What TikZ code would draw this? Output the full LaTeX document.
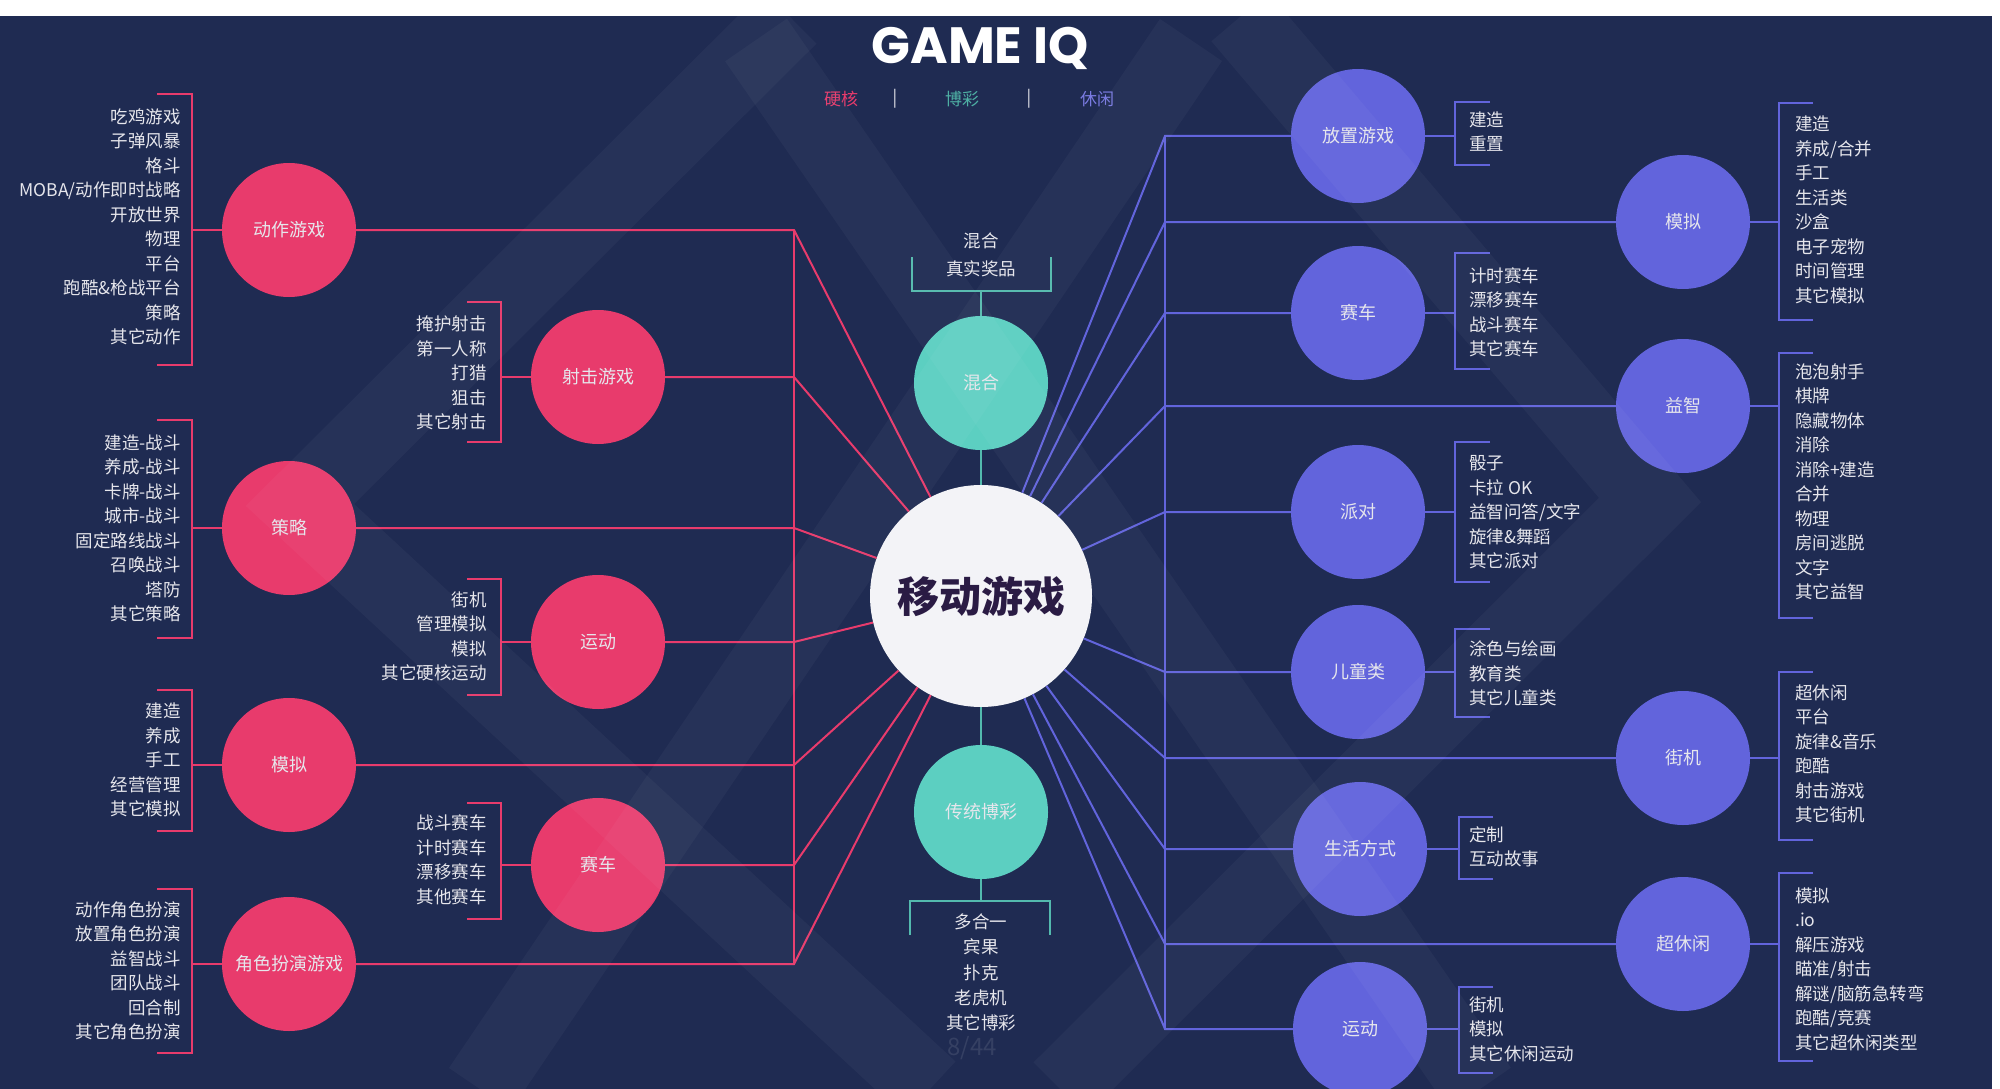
\documentclass[tikz,border=0pt]{standalone}
\usepackage{fontspec}
\setmainfont{Noto Sans CJK SC}
\newfontfamily\titlefont{Poppins}
\usetikzlibrary{positioning}
\definecolor{navy}{HTML}{1F2B52}
\definecolor{rose}{HTML}{E83B6C}
\definecolor{mint}{HTML}{5CCFC1}
\definecolor{iris}{HTML}{6264DC}
\definecolor{ink}{HTML}{2A1B44}
\definecolor{paper}{HTML}{F3F3F7}
\definecolor{txt}{HTML}{E6E6EC}

\begin{document}
\begin{tikzpicture}[x=1pt, y=-1pt,
      hard/.style={circle, fill=rose, minimum size=134pt, inner sep=0pt,
                   text=txt, font=\fontsize{18}{20}\selectfont},
      gamb/.style={hard, fill=mint},
      casu/.style={hard, fill=iris},
      lstL/.style={anchor=east, align=right, inner sep=0pt, text=txt,
                   font=\fontsize{17.5}{24.5}\selectfont},
      lstR/.style={lstL, anchor=west, align=left},
      hline/.style={rose, line width=2pt},
      gline/.style={mint!90!black, line width=2pt},
      cline/.style={iris, line width=2pt},
      brk/.style={line width=2.5pt},
      wm/.style={white, opacity=0.035, line width=75pt, line join=miter}
    ]
    \useasboundingbox (0,0) rectangle (2000,1089);
    \fill[white] (0,0) rectangle (2000,1089);
    \fill[navy] (0,16) rectangle (1992,1089);

    % title and legend
    \node[text=white, font=\titlefont\bfseries\fontsize{51}{55}\selectfont] (title) at (980,48) {GAME IQ};
    \node[text=rose, font=\fontsize{17}{20}\selectfont] (lgHard) at (841,99) {硬核};
    \node[text=txt, font=\fontsize{17}{20}\selectfont] (sepA) at (895,99) {|};
    \node[text=mint!85!black, font=\fontsize{17}{20}\selectfont] (lgGamb) at (962,99) {博彩};
    \node[text=txt, font=\fontsize{17}{20}\selectfont] (sepB) at (1029,99) {|};
    \node[text=iris!85!white, font=\fontsize{17}{20}\selectfont] (lgCasu) at (1097,99) {休闲};

    % hub
    \node[circle, fill=paper, minimum size=222pt, inner sep=0pt, text=ink,
          font=\bfseries\fontsize{42}{46}\selectfont] (hub) at (981,596) {移动游戏};

    % hardcore
    \node[hard] (act) at (289,230) {动作游戏};
    \node[hard] (shoot) at (598,377) {射击游戏};
    \node[hard] (strat) at (289,528) {策略};
    \node[hard] (sport) at (598,642) {运动};
    \node[hard] (sim) at (289,765) {模拟};
    \node[hard] (race) at (598,865) {赛车};
    \node[hard] (rpg) at (289,964) {角色扮演游戏};

    % gambling
    \node[gamb] (mix) at (981,383) {混合};
    \node[gamb] (trad) at (981,812) {传统博彩};

    % casual
    \node[casu] (idle) at (1358,136) {放置游戏};
    \node[casu] (race2) at (1358,313) {赛车};
    \node[casu] (party) at (1358,512) {派对};
    \node[casu] (kids) at (1358,672) {儿童类};
    \node[casu] (life) at (1360,849) {生活方式};
    \node[casu] (sport2) at (1360,1029) {运动};
    \node[casu] (sim2) at (1683,222) {模拟};
    \node[casu] (puzz) at (1683,406) {益智};
    \node[casu] (arc) at (1683,758) {街机};
    \node[casu] (hyper) at (1683,944) {超休闲};

    % connectors to hub
    \coordinate (hTop) at (794,230);
    \coordinate (hBot) at (794,964);
    \coordinate (cTop) at (1165,136);
    \coordinate (cBot) at (1165,1029);
    \draw[hline] (hTop) -- (hBot);
    \draw[hline] (act) -- (act -| hTop) -- (hub);
    \draw[hline] (shoot) -- (shoot -| hTop) -- (hub);
    \draw[hline] (strat) -- (strat -| hTop) -- (hub);
    \draw[hline] (sport) -- (sport -| hTop) -- (hub);
    \draw[hline] (sim) -- (sim -| hTop) -- (hub);
    \draw[hline] (race) -- (race -| hTop) -- (hub);
    \draw[hline] (rpg) -- (rpg -| hTop) -- (hub);

    \draw[cline] (cTop) -- (cBot);
    \draw[cline] (idle) -- (idle -| cTop) -- (hub);
    \draw[cline] (race2) -- (race2 -| cTop) -- (hub);
    \draw[cline] (party) -- (party -| cTop) -- (hub);
    \draw[cline] (kids) -- (kids -| cTop) -- (hub);
    \draw[cline] (life) -- (life -| cTop) -- (hub);
    \draw[cline] (sport2) -- (sport2 -| cTop) -- (hub);
    \draw[cline] (sim2) -- (sim2 -| cTop) -- (hub);
    \draw[cline] (puzz) -- (puzz -| cTop) -- (hub);
    \draw[cline] (arc) -- (arc -| cTop) -- (hub);
    \draw[cline] (hyper) -- (hyper -| cTop) -- (hub);

    \draw[gline] (hub) -- (mix);
    \draw[gline] (hub) -- (trad);

    % gambling lists
    \coordinate (mixB) at (981,291);
    \coordinate (tradB) at (981,901);
    \draw[gline] (mix) -- (mixB);
    \draw[gline, brk] (912,257) -- (912,291) -- (1051,291) -- (1051,257);
    \node[align=center, inner sep=0pt, text=txt, font=\fontsize{17.5}{28}\selectfont] (mixL) at (981,255) {混合\\真实奖品};
    \draw[gline] (trad) -- (tradB);
    \draw[gline, brk] (910,935) -- (910,901) -- (1050,901) -- (1050,935);
    \node[align=center, inner sep=0pt, text=txt, font=\fontsize{17.5}{25.3}\selectfont] (tradL) at (981,972.5) {多合一\\宾果\\扑克\\老虎机\\其它博彩};
    \node[text=white, opacity=0.1, font=\fontsize{24}{26}\selectfont] (pageNo) at (972,1048) {8/44};

    % hardcore lists
    \node[lstL] (actL) at (181,227) {吃鸡游戏\\子弹风暴\\格斗\\MOBA/动作即时战略\\开放世界\\物理\\平台\\跑酷\&枪战平台\\策略\\其它动作};
    \draw[hline, brk] (157,94) -- (192,94) -- (192,365) -- (157,365);
    \draw[hline] (192,230) -- (act);

    \node[lstL] (shootL) at (487,373) {掩护射击\\第一人称\\打猎\\狙击\\其它射击};
    \draw[hline, brk] (467,302) -- (501,302) -- (501,442) -- (467,442);
    \draw[hline] (501,377) -- (shoot);

    \node[lstL] (stratL) at (181,528.5) {建造-战斗\\养成-战斗\\卡牌-战斗\\城市-战斗\\固定路线战斗\\召唤战斗\\塔防\\其它策略};
    \draw[hline, brk] (157,420) -- (192,420) -- (192,638) -- (157,638);
    \draw[hline] (192,528) -- (strat);

    \node[lstL] (sportL) at (487,636.5) {街机\\管理模拟\\模拟\\其它硬核运动};
    \draw[hline, brk] (467,579) -- (501,579) -- (501,695) -- (467,695);
    \draw[hline] (501,642) -- (sport);

    \node[lstL] (simL) at (181,760) {建造\\养成\\手工\\经营管理\\其它模拟};
    \draw[hline, brk] (157,690) -- (192,690) -- (192,831) -- (157,831);
    \draw[hline] (192,765) -- (sim);

    \node[lstL] (raceL) at (487,860) {战斗赛车\\计时赛车\\漂移赛车\\其他赛车};
    \draw[hline, brk] (467,803) -- (501,803) -- (501,919) -- (467,919);
    \draw[hline] (501,865) -- (race);

    \node[lstL] (rpgL) at (181,971) {动作角色扮演\\放置角色扮演\\益智战斗\\团队战斗\\回合制\\其它角色扮演};
    \draw[hline, brk] (157,889) -- (192,889) -- (192,1053) -- (157,1053);
    \draw[hline] (192,964) -- (rpg);

    % casual lists
    \node[lstR] (idleL) at (1469,131.5) {建造\\重置};
    \draw[cline, brk] (1490,102) -- (1455,102) -- (1455,165) -- (1490,165);
    \draw[cline] (idle) -- (1455,136);

    \node[lstR] (race2L) at (1469,312.5) {计时赛车\\漂移赛车\\战斗赛车\\其它赛车};
    \draw[cline, brk] (1490,253) -- (1455,253) -- (1455,369) -- (1490,369);
    \draw[cline] (race2) -- (1455,313);

    \node[lstR] (partyL) at (1469,512.5) {骰子\\卡拉 OK\\益智问答/文字\\旋律\&舞蹈\\其它派对};
    \draw[cline, brk] (1490,442) -- (1455,442) -- (1455,582) -- (1490,582);
    \draw[cline] (party) -- (1455,512);

    \node[lstR] (kidsL) at (1469,673.5) {涂色与绘画\\教育类\\其它儿童类};
    \draw[cline, brk] (1490,629) -- (1455,629) -- (1455,717) -- (1490,717);
    \draw[cline] (kids) -- (1455,672);

    \node[lstR] (lifeL) at (1469,847) {定制\\互动故事};
    \draw[cline, brk] (1493,817) -- (1459,817) -- (1459,879) -- (1493,879);
    \draw[cline] (life) -- (1459,849);

    \node[lstR] (sport2L) at (1469,1029) {街机\\模拟\\其它休闲运动};
    \draw[cline, brk] (1493,987) -- (1459,987) -- (1459,1073) -- (1493,1073);
    \draw[cline] (sport2) -- (1459,1029);

    \node[lstR] (sim2L) at (1795,210) {建造\\养成/合并\\手工\\生活类\\沙盒\\电子宠物\\时间管理\\其它模拟};
    \draw[cline, brk] (1813,103) -- (1779,103) -- (1779,320) -- (1813,320);
    \draw[cline] (sim2) -- (1779,222);

    \node[lstR] (puzzL) at (1795,482) {泡泡射手\\棋牌\\隐藏物体\\消除\\消除+建造\\合并\\物理\\房间逃脱\\文字\\其它益智};
    \draw[cline, brk] (1813,353) -- (1779,353) -- (1779,618) -- (1813,618);
    \draw[cline] (puzz) -- (1779,406);

    \node[lstR] (arcL) at (1795,754) {超休闲\\平台\\旋律\&音乐\\跑酷\\射击游戏\\其它街机};
    \draw[cline, brk] (1813,672) -- (1779,672) -- (1779,840) -- (1813,840);
    \draw[cline] (arc) -- (1779,758);

    \node[lstR] (hyperL) at (1795,969) {模拟\\.io\\解压游戏\\瞄准/射击\\解谜/脑筋急转弯\\跑酷/竞赛\\其它超休闲类型};
    \draw[cline, brk] (1813,873) -- (1779,873) -- (1779,1061) -- (1813,1061);
    \draw[cline] (hyper) -- (1779,944);

    % faint watermark
    \begin{scope}
      \clip (0,16) rectangle (1992,1089);
      \draw[wm] (790,17) -- (300,505) -- (930,1089);
      \draw[wm] (1240,17) -- (1650,500) -- (1060,1089);
      \draw[wm] (756,40) -- (1480,1089);
      \draw[wm] (1191,40) -- (480,1089);
    \end{scope}
  \end{tikzpicture}
\end{document}
